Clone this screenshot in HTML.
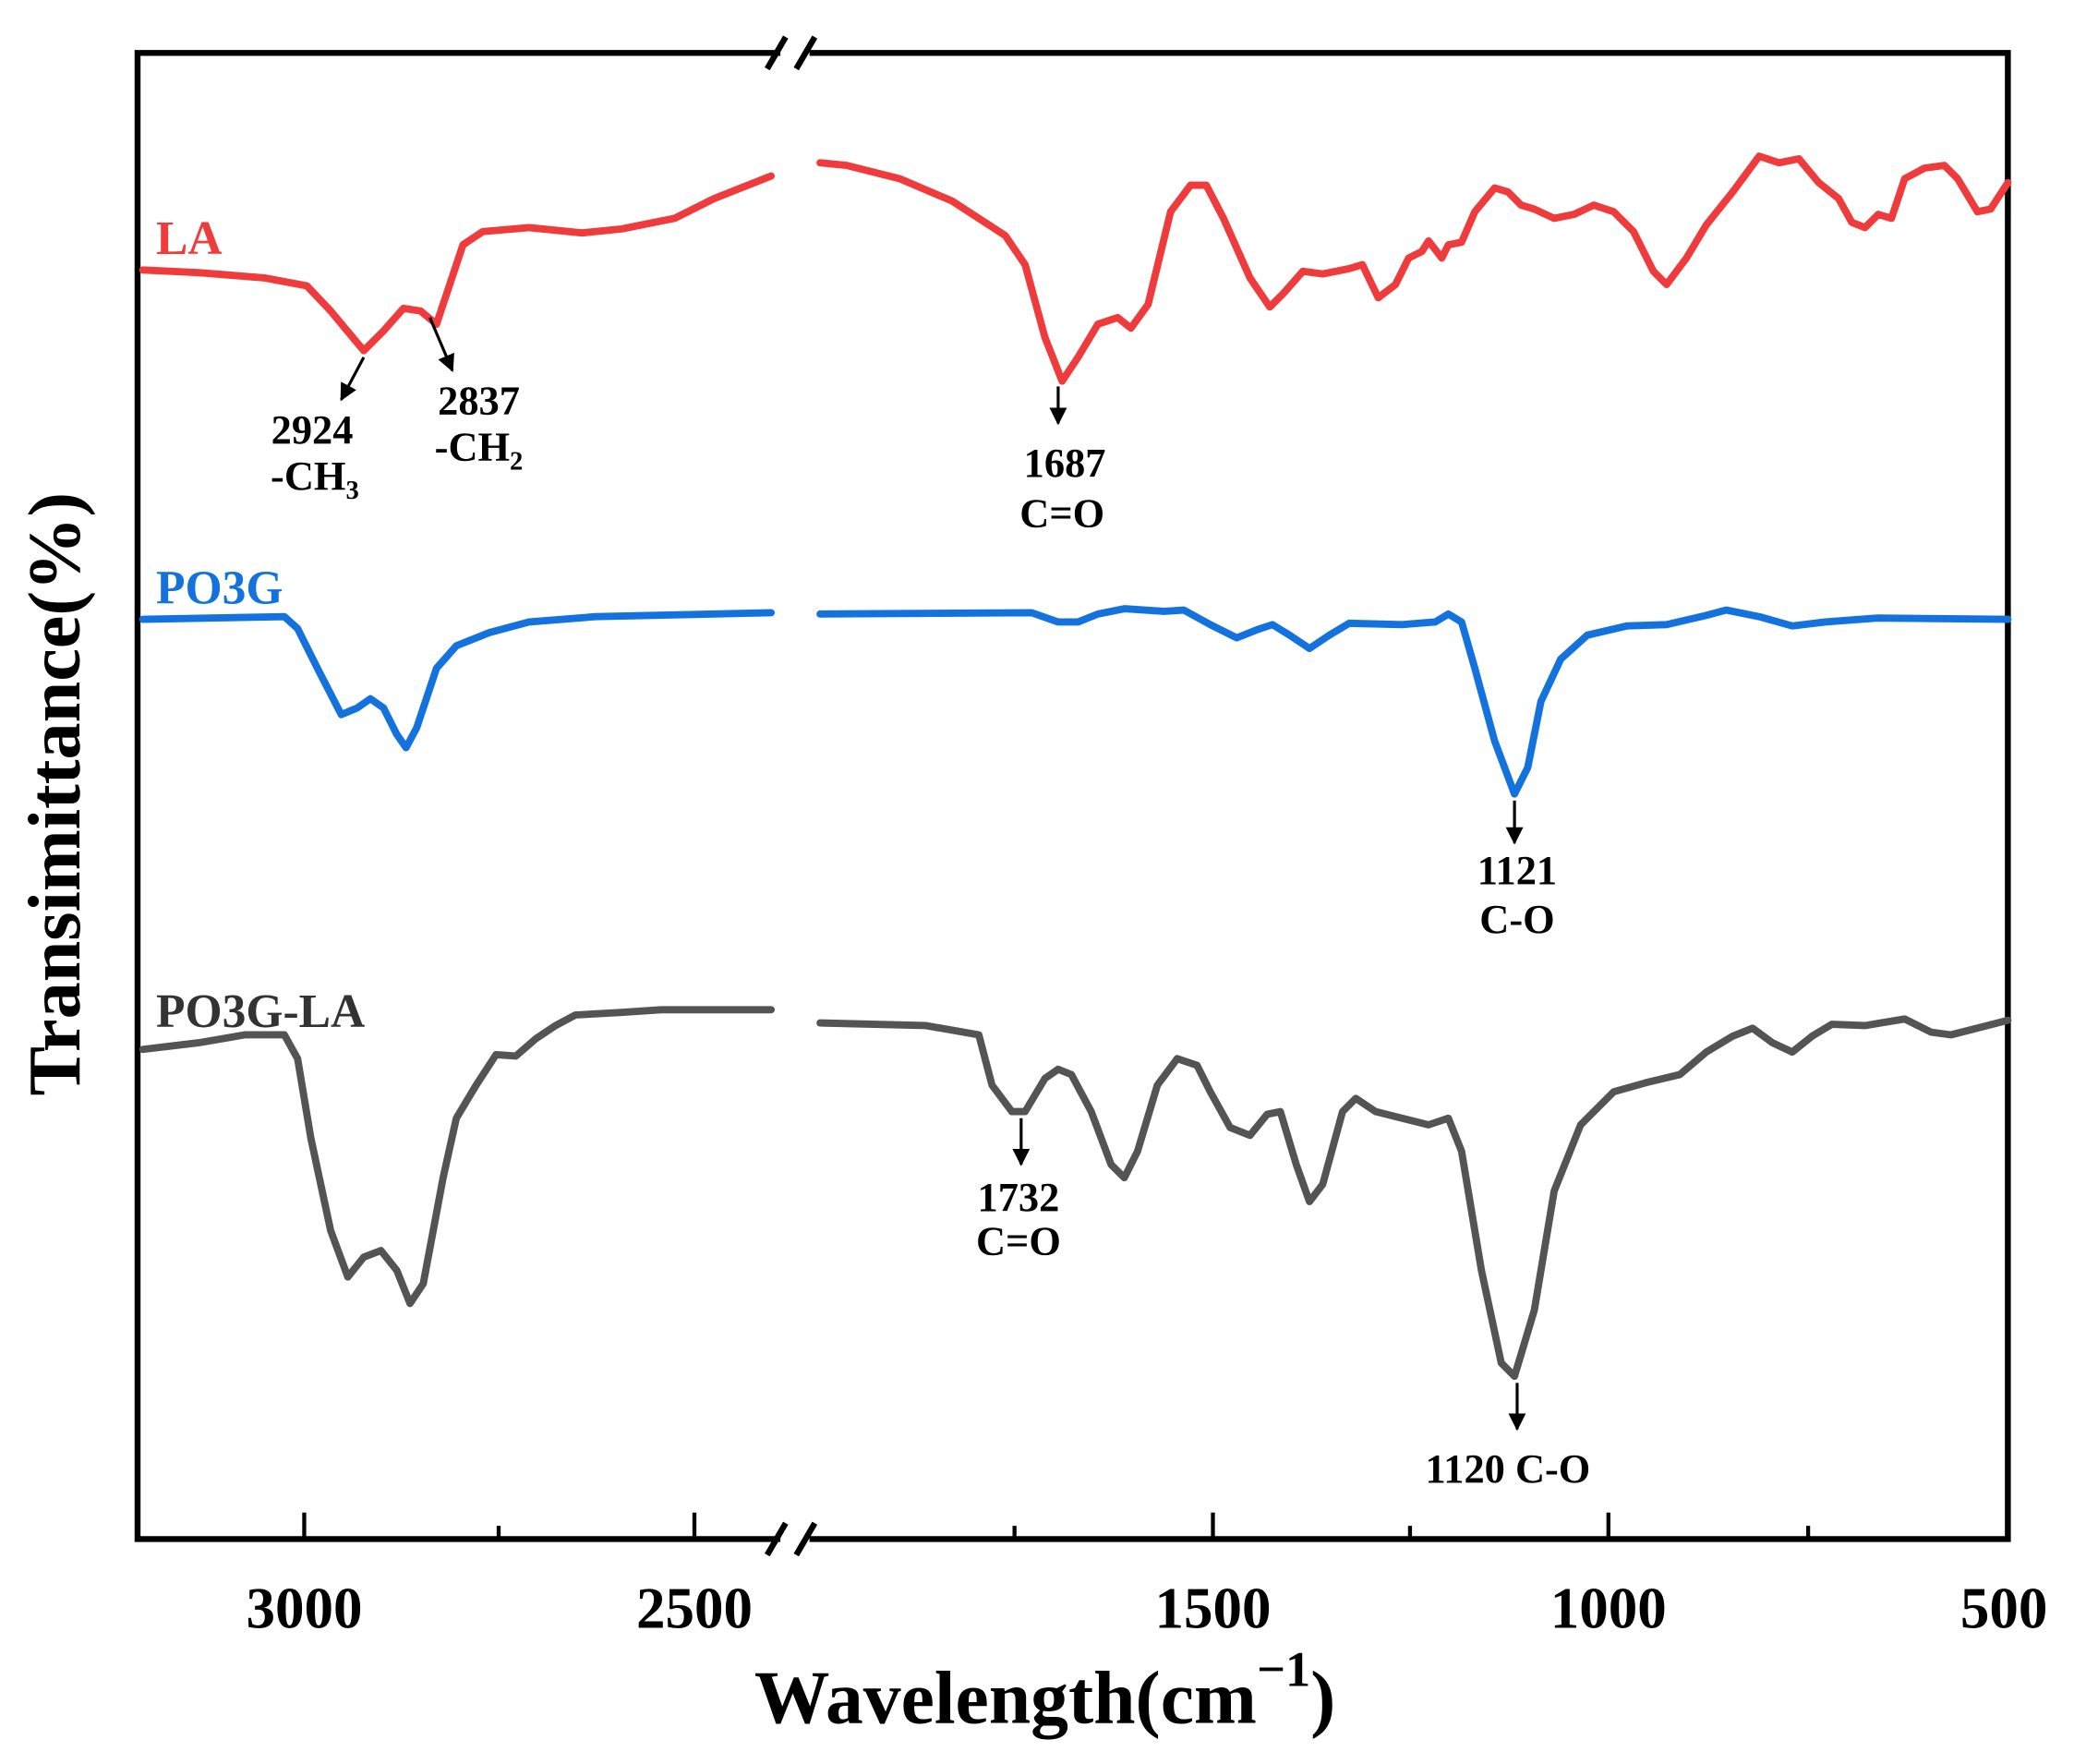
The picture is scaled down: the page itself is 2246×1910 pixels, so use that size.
<!DOCTYPE html>
<html><head><meta charset="utf-8"><style>
html,body{margin:0;padding:0;background:#fff;}
svg{display:block;}
text{font-family:"Liberation Serif",serif;font-weight:bold;}
</style></head><body>
<svg width="2246" height="1910" viewBox="0 0 1568 1333" preserveAspectRatio="none" xmlns="http://www.w3.org/2000/svg">
<rect width="1568" height="1333" fill="#fff"/>
<g stroke="#000" stroke-width="4.5" fill="none">
<path d="M590,40 H104 V1163 H590"/>
<path d="M612,40 H1518 V1163 H612"/>
<path d="M580,52 L594,28 M602,52 L616,28"/>
<path d="M580,1175 L594,1151 M602,1175 L616,1151"/>
</g>
<g stroke="#000" stroke-width="3">
<path d="M230,1163 V1143 M525,1163 V1143 M917,1163 V1143 M1216,1163 V1143 M377,1163 V1153 M767,1163 V1153 M1066,1163 V1153 M1367,1163 V1153"/>
</g>
<g font-size="44" text-anchor="middle">
<text x="230" y="1230">3000</text>
<text x="525" y="1230">2500</text>
<text x="917" y="1230">1500</text>
<text x="1216" y="1230">1000</text>
<text x="1515" y="1230">500</text>
</g>
<text x="790" y="1302" font-size="57" text-anchor="middle">Wavelength(cm<tspan font-size="38" dy="-28">−1</tspan><tspan dy="28">)</tspan></text>
<text transform="translate(60,600) rotate(-90)" font-size="56" text-anchor="middle">Transimittance(%)</text>

<g fill="none" stroke-width="5.5" stroke-linejoin="round" stroke-linecap="round">
<polyline stroke="#ef3b3b" points="108,204 150,206 200,210 232,216 250,235 275,265 290,250 305,233 318,235 330,245 340,215 350,185 365,175 400,172 440,176 470,173 510,165 540,150 583,133"/>
<polyline stroke="#ef3b3b" points="620,123 640,125 680,135 720,152 760,178 775,200 790,255 803,288 815,270 830,245 845,240 855,248 868,230 885,160 900,140 912,140 925,165 945,210 960,232 970,222 985,205 1000,207 1020,203 1030,200 1042,225 1055,215 1065,195 1075,190 1080,182 1090,195 1095,185 1105,183 1115,160 1130,142 1140,145 1150,155 1160,158 1175,165 1190,162 1205,155 1220,160 1235,175 1250,205 1260,215 1275,195 1290,170 1310,145 1330,118 1345,123 1360,120 1375,138 1390,150 1400,168 1410,172 1420,162 1430,165 1440,135 1455,127 1470,125 1480,135 1495,160 1505,158 1518,138"/>
<polyline stroke="#1472de" points="108,468 215,466 225,475 240,505 258,540 270,535 280,528 290,535 300,555 307,565 315,550 330,505 345,488 370,478 400,470 450,466 583,463"/>
<polyline stroke="#1472de" points="620,464 780,463 800,470 815,470 830,464 850,460 880,462 895,461 915,472 935,482 950,476 962,472 975,480 990,490 1005,480 1020,471 1060,472 1085,470 1095,464 1105,470 1115,505 1130,560 1145,600 1155,580 1165,530 1180,498 1200,480 1230,473 1260,472 1290,465 1305,461 1330,466 1355,473 1380,470 1420,467 1518,468"/>
<polyline stroke="#545454" points="108,793 150,788 185,782 215,782 225,800 235,860 250,930 263,965 275,950 288,945 300,960 310,985 320,970 335,890 345,845 360,820 375,797 390,798 405,785 420,775 435,767 470,765 500,763 583,763"/>
<polyline stroke="#545454" points="620,773 700,775 740,782 750,820 765,840 775,840 790,815 800,808 810,812 825,840 840,880 850,890 860,870 875,820 890,800 905,805 915,825 930,852 945,858 958,842 968,840 980,880 990,908 1000,895 1015,840 1025,830 1040,840 1060,845 1080,850 1095,845 1105,870 1120,960 1135,1030 1145,1040 1160,990 1175,900 1195,850 1220,825 1245,818 1270,812 1290,795 1310,783 1325,777 1340,788 1355,795 1370,783 1385,774 1410,775 1440,770 1460,780 1475,782 1518,771"/>
</g>

<text x="118" y="192" font-size="36" fill="#ef3b3b">LA</text>
<text x="118" y="456" font-size="36" fill="#1472de">PO3G</text>
<text x="118" y="776" font-size="36" fill="#333">PO3G-LA</text>

<defs><marker id="ah" viewBox="0 0 10 10" refX="9" refY="5" markerWidth="6" markerHeight="7" orient="auto-start-reverse"><path d="M0,0 L10,5 L0,10 z" fill="#000"/></marker></defs>
<g stroke="#000" stroke-width="2.2" marker-end="url(#ah)">
<line x1="275" y1="270" x2="258" y2="302"/>
<line x1="325" y1="240" x2="342" y2="280"/>
<line x1="800" y1="292" x2="800" y2="320"/>
<line x1="1145" y1="605" x2="1145" y2="637"/>
<line x1="772" y1="845" x2="772" y2="880"/>
<line x1="1147" y1="1045" x2="1147" y2="1080"/>
</g>
<g font-size="31" text-anchor="middle" fill="#000">
<text x="236" y="335">2924</text>
<text x="238" y="370">-CH<tspan font-size="20" dy="7">3</tspan></text>
<text x="362" y="313">2837</text>
<text x="362" y="348">-CH<tspan font-size="20" dy="7">2</tspan></text>
<text x="805" y="360">1687</text>
<text x="803" y="398">C=O</text>
<text x="1147" y="668">1121</text>
<text x="1147" y="705">C-O</text>
<text x="770" y="915">1732</text>
<text x="770" y="948">C=O</text>
<text x="1140" y="1120">1120 C-O</text>
</g>
</svg>
</body></html>
